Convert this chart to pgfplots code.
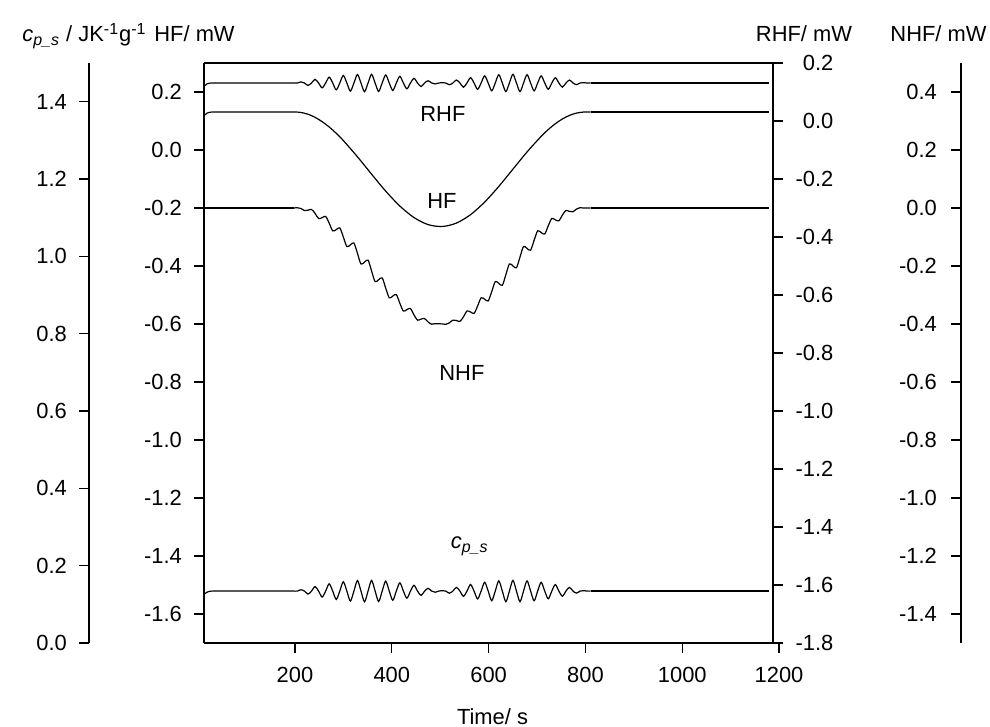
\documentclass[border=0pt,11pt]{standalone}
\usepackage{fontspec}
\setmainfont{Liberation Sans}
\usepackage{pgfplots}
\pgfplotsset{compat=1.18}
\pgfplotsset{myax/.style={
  scale only axis, height=290pt, anchor=south west,
  tick align=outside, major tick length=5pt,
  axis line style={line width=0.6pt, black},
  every tick/.style={line width=0.6pt, black},
  /pgf/number format/assume math mode=true,
  yticklabel style={/pgf/number format/fixed, /pgf/number format/fixed zerofill, /pgf/number format/precision=1},
}}
\begin{document}
\begin{tikzpicture}
\path[use as bounding box] (0pt,0pt) rectangle (495pt,363.5pt);
% main axis (HF)
\begin{axis}[myax, at={(102pt,42pt)}, width=288.5pt,
  xmin=12, xmax=1204, ymin=-1.7, ymax=0.3,
  axis x line*=box, axis y line*=left, tick pos=left,
  xtick={200,400,600,800,1000,1200},
  xticklabel style={/pgf/number format/1000 sep={}, yshift=-3.5pt},
  ytick={-1.6,-1.4,-1.2,-1,-0.8,-0.6,-0.4,-0.2,0,0.2},
  yticklabel style={xshift=-2.2pt},
  xlabel={Time/ s}, xlabel style={yshift=-5pt},
  clip=false,
  every axis plot/.append style={black, line width=0.6pt}]
% ---- top curve (flat parts + oscillating part)
\addplot[black] coordinates {(14,0.222) (18,0.228) (24,0.2305) (30,0.231) (197.6,0.231)};
\addplot[black] coordinates {(810.8,0.231) (1180,0.231)};
\addplot[black, smooth] table[x=t, y=A] {
t A
197.6 0.231
204.9 0.231
212.2 0.2348
219.5 0.231
226.8 0.2227
234.1 0.231
241.4 0.2436
248.7 0.231
256.0 0.2144
263.3 0.231
270.6 0.2512
277.9 0.231
285.2 0.2076
292.5 0.231
299.8 0.2570
307.1 0.231
314.4 0.2031
321.7 0.231
329.0 0.2603
336.3 0.231
343.6 0.2011
350.9 0.231
358.2 0.2609
365.5 0.231
372.8 0.2019
380.1 0.231
387.4 0.2587
394.7 0.231
402.0 0.2053
409.3 0.231
416.6 0.2540
423.9 0.231
431.2 0.2112
438.5 0.231
445.8 0.2471
453.1 0.231
460.4 0.2189
467.7 0.231
475.0 0.2388
482.3 0.231
489.6 0.2277
496.9 0.231
504.2 0.2323
511.5 0.231
518.8 0.2251
526.1 0.231
533.4 0.2413
540.7 0.231
548.0 0.2165
555.3 0.231
562.6 0.2493
569.9 0.231
577.2 0.2093
584.5 0.231
591.8 0.2556
599.1 0.231
606.4 0.2041
613.7 0.231
621.0 0.2596
628.3 0.231
635.6 0.2013
642.9 0.231
650.2 0.2610
657.5 0.231
664.8 0.2014
672.1 0.231
679.4 0.2596
686.7 0.231
694.0 0.2041
701.3 0.231
708.6 0.2555
715.9 0.231
723.2 0.2094
730.5 0.231
737.8 0.2492
745.1 0.231
752.4 0.2167
759.7 0.231
767.0 0.2412
774.3 0.231
781.6 0.2253
788.9 0.231
796.2 0.2322
803.5 0.231
810.8 0.231
};
% ---- smooth dip curve
\addplot[black] coordinates {(14,0.121) (18,0.127) (24,0.1302) (30,0.131) (185.4,0.131)};
\addplot[black] coordinates {(810.8,0.131) (1180,0.131)};
\addplot[black, smooth] coordinates {
(185.4,0.131) (200,0.131) (212.2,0.1294) (226.8,0.1233)
(241.4,0.1127) (256.0,0.0977) (270.6,0.0794) (285.2,0.0575)
(299.8,0.0326) (329.0,-0.0234) (358.2,-0.0834) (387.4,-0.1419) (416.6,-0.1933)
(445.8,-0.2330) (475.0,-0.2573) (504.2,-0.2638) (533.4,-0.2520) (562.6,-0.2231)
(591.8,-0.1796) (621.0,-0.1256) (650.2,-0.0661) (679.4,-0.0067) (708.6,0.0472)
(723.2,0.0705) (737.8,0.0906) (752.4,0.1070) (767.0,0.1193) (781.6,0.1273)
(796.2,0.1308) (810.8,0.131)
};
% ---- wavy dip curve
\addplot[black] coordinates {(14,-0.200) (197.6,-0.200)};
\addplot[black] coordinates {(810.8,-0.200) (1180,-0.200)};
\addplot[black, smooth] table[x=t, y=C] {
t C
197.6 -0.200
204.9 -0.1992
212.2 -0.2016
219.5 -0.2087
226.8 -0.2078
234.1 -0.2049
241.4 -0.2185
248.7 -0.2362
256.0 -0.2334
263.3 -0.2289
270.6 -0.2522
277.9 -0.2789
285.2 -0.2745
292.5 -0.2686
299.8 -0.2996
307.1 -0.3329
314.4 -0.3272
321.7 -0.3206
329.0 -0.3564
336.3 -0.3932
343.6 -0.3866
350.9 -0.3799
358.2 -0.4172
365.5 -0.4540
372.8 -0.4473
380.1 -0.4411
387.4 -0.4763
394.7 -0.5098
402.0 -0.5036
409.3 -0.4985
416.6 -0.5285
423.9 -0.5555
431.2 -0.5503
438.5 -0.5467
445.8 -0.5686
453.1 -0.5868
460.4 -0.5830
467.7 -0.5814
475.0 -0.5932
482.3 -0.6007
489.6 -0.5988
496.9 -0.5992
504.2 -0.5998
511.5 -0.6012
518.8 -0.5961
526.1 -0.5867
533.4 -0.5879
540.7 -0.5912
548.0 -0.5753
555.3 -0.5554
562.6 -0.5585
569.9 -0.5635
577.2 -0.5381
584.5 -0.5097
591.8 -0.5145
599.1 -0.5205
606.4 -0.4882
613.7 -0.4538
621.0 -0.4598
628.3 -0.4665
635.6 -0.4300
642.9 -0.3930
650.2 -0.3996
657.5 -0.4062
664.8 -0.3691
672.1 -0.3327
679.4 -0.3394
686.7 -0.3454
694.0 -0.3111
701.3 -0.2788
708.6 -0.2848
715.9 -0.2897
723.2 -0.2613
730.5 -0.2361
737.8 -0.2410
745.1 -0.2441
752.4 -0.2243
759.7 -0.2086
767.0 -0.2118
774.3 -0.2130
781.6 -0.2037
788.9 -0.1988
796.2 -0.2002
803.5 -0.2000
810.8 -0.200
};
% ---- bottom curve
\addplot[black] coordinates {(14,-1.530) (18,-1.525) (24,-1.5215) (30,-1.521) (197.6,-1.521)};
\addplot[black] coordinates {(810.8,-1.521) (1180,-1.521)};
\addplot[black, smooth] table[x=t, y=D] {
t D
197.6 -1.521
204.9 -1.521
212.2 -1.5163
219.5 -1.521
226.8 -1.5312
234.1 -1.521
241.4 -1.5055
248.7 -1.521
256.0 -1.5415
263.3 -1.521
270.6 -1.4961
277.9 -1.521
285.2 -1.5498
292.5 -1.521
299.8 -1.4890
307.1 -1.521
314.4 -1.5555
321.7 -1.521
329.0 -1.4849
336.3 -1.521
343.6 -1.5579
350.9 -1.521
358.2 -1.4841
365.5 -1.521
372.8 -1.5569
380.1 -1.521
387.4 -1.4868
394.7 -1.521
402.0 -1.5527
409.3 -1.521
416.6 -1.4926
423.9 -1.521
431.2 -1.5454
438.5 -1.521
445.8 -1.5011
453.1 -1.521
460.4 -1.5359
467.7 -1.521
475.0 -1.5114
482.3 -1.521
489.6 -1.5250
496.9 -1.521
504.2 -1.5194
511.5 -1.521
518.8 -1.5282
526.1 -1.521
533.4 -1.5083
540.7 -1.521
548.0 -1.5388
555.3 -1.521
562.6 -1.4984
569.9 -1.521
577.2 -1.5478
584.5 -1.521
591.8 -1.4907
599.1 -1.521
606.4 -1.5542
613.7 -1.521
621.0 -1.4857
628.3 -1.521
635.6 -1.5576
642.9 -1.521
650.2 -1.4840
657.5 -1.521
664.8 -1.5575
672.1 -1.521
679.4 -1.4857
686.7 -1.521
694.0 -1.5542
701.3 -1.521
708.6 -1.4908
715.9 -1.521
723.2 -1.5476
730.5 -1.521
737.8 -1.4985
745.1 -1.521
752.4 -1.5386
759.7 -1.521
767.0 -1.5084
774.3 -1.521
781.6 -1.5280
788.9 -1.521
796.2 -1.5195
803.5 -1.521
810.8 -1.521
};
\node at (axis cs:505.6,0.124) {RHF};
\node at (axis cs:503.5,-0.176) {HF};
\node at (axis cs:544.8,-0.769) {NHF};
\node at (axis cs:561,-1.366) {{\itshape c}\textsubscript{\itshape p\_s}};
\end{axis}
% RHF axis (right)
\begin{axis}[myax, at={(102pt,42pt)}, width=284.5pt,
  xmin=0, xmax=1, ymin=-1.8, ymax=0.2,
  axis x line=none, axis y line*=right,
  ytick={-1.8,-1.6,-1.4,-1.2,-1,-0.8,-0.6,-0.4,-0.2,0,0.2},
  yticklabel style={anchor=east, xshift=29pt}]
\end{axis}
% NHF axis (far right)
\begin{axis}[myax, at={(480.5pt,42pt)}, width=1pt,
  xmin=0, xmax=1, ymin=-1.5, ymax=0.5,
  axis x line=none, axis y line*=left,
  ytick={-1.4,-1.2,-1,-0.8,-0.6,-0.4,-0.2,0,0.2,0.4},
  yticklabel style={xshift=-3.2pt}]
\end{axis}
% cp axis (far left)
\begin{axis}[myax, at={(44.5pt,42pt)}, width=1pt,
  xmin=0, xmax=1, ymin=0, ymax=1.5,
  axis x line=none, axis y line*=left,
  ytick={0,0.2,0.4,0.6,0.8,1,1.2,1.4},
  yticklabel style={xshift=-2.2pt}]
\end{axis}
% axis titles
\node[anchor=base west, inner sep=0pt] at (11pt,342.5pt) {{\itshape c}\textsubscript{\itshape p\_s} / JK\textsuperscript{-1}g\textsuperscript{-1}};
\node[anchor=base west, inner sep=0pt] at (77pt,342.5pt) {HF/ mW};
\node[anchor=base] at (402pt,342.5pt) {RHF/ mW};
\node[anchor=base] at (469.25pt,342.5pt) {NHF/ mW};
\end{tikzpicture}
\end{document}
